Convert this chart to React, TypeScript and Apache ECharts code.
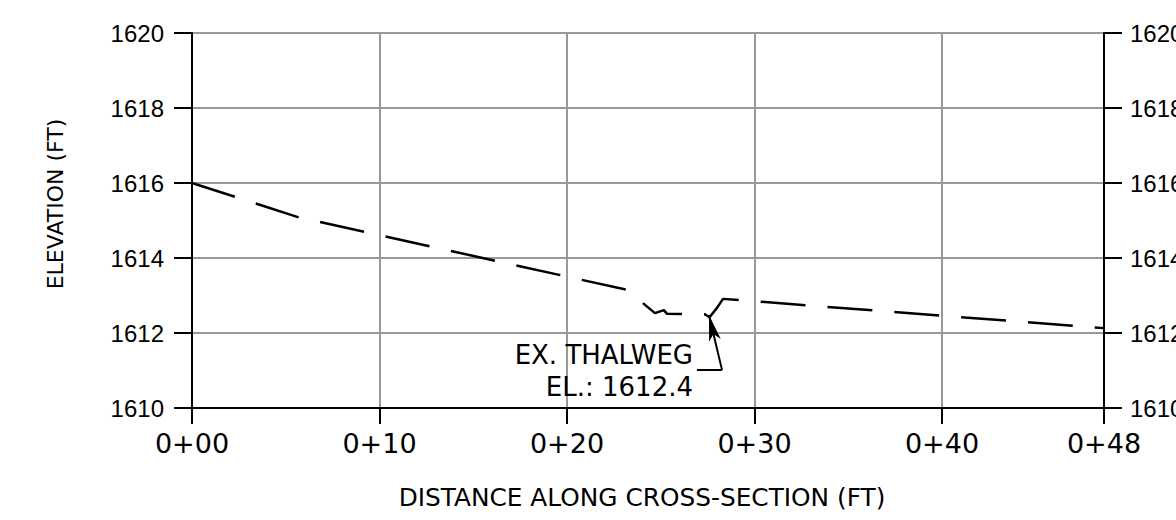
import React, { useEffect, useRef } from "react";
import * as echarts from "echarts";

// Ground profile (distance ft, elevation ft)
const distances = [0, 5.65, 23.2, 24.69, 25.17, 25.33, 27.35, 27.6, 28.0, 28.32, 48.64];
const elevations = [1616, 1615.09, 1613.15, 1612.53, 1612.61, 1612.51, 1612.5, 1612.42, 1612.67, 1612.91, 1612.13];

const xTickValues = [0, 10, 20, 30, 40, 48.64];
const xTickLabels = ["0+00", "0+10", "0+20", "0+30", "0+40", "0+48"];
const yMin = 1610;
const yMax = 1620;
const yStep = 2;

const thalwegX = 27.57;
const thalwegY = 1612.48;
const leaderStart = [26.93, 1611.01];
const leaderCorner = [28.27, 1611.01];
const labelAnchor = [26.72, 1610.99];
const labelLines = ["EX. THALWEG", "EL.: 1612.4"];

const xTitle = "DISTANCE ALONG CROSS-SECTION (FT)";
const yTitle = "ELEVATION (FT)";

export default function App() {
  const ref = useRef<HTMLDivElement>(null);
  useEffect(() => {
    if (!ref.current) return;
    const chart = echarts.init(ref.current, null, { renderer: "svg" });
    const data = distances.map((d, i) => [d, elevations[i]]);
    const xMax = xTickValues[xTickValues.length - 1];
    const axisLine = { show: true, lineStyle: { color: "#000", width: 2 } };
    const axisTick = { show: true, inside: false, length: 18, lineStyle: { color: "#000", width: 2 } };
    const yLabel = {
      fontFamily: "Liberation Sans",
      fontSize: 24,
      color: "#000",
      margin: 28,
      formatter: (v: number) => String(v),
    };
    chart.setOption({
      animation: false,
      backgroundColor: "#fff",
      grid: {
        left: 192,
        right: 72,
        top: 33,
        bottom: 112,
        containLabel: false,
        outerBoundsMode: "none",
      },
      xAxis: {
        type: "value",
        min: 0,
        max: xMax,
        interval: 10,
        axisLine,
        axisTick: { ...axisTick, length: 16 },
        axisLabel: {
          showMaxLabel: true,
          showMinLabel: true,
          fontFamily: "DejaVu Sans",
          fontSize: 27,
          color: "#000",
          margin: 22,
          formatter: (v: number) => {
            const i = xTickValues.findIndex((t) => Math.abs(t - v) < 0.01);
            return i >= 0 ? xTickLabels[i] : "";
          },
        },
        splitLine: { show: true, lineStyle: { color: "#999", width: 2 } },
      },
      yAxis: [
        {
          type: "value",
          min: yMin,
          max: yMax,
          interval: yStep,
          position: "left",
          axisLine,
          axisTick,
          axisLabel: yLabel,
          splitLine: { show: true, lineStyle: { color: "#999", width: 2 } },
        },
        {
          type: "value",
          min: yMin,
          max: yMax,
          interval: yStep,
          position: "right",
          axisLine,
          axisTick,
          axisLabel: { ...yLabel, margin: 26 },
          splitLine: { show: false },
        },
      ],
      series: [
        {
          type: "line",
          data,
          symbol: "none",
          lineStyle: { color: "#000", width: 2.5, type: [45, 22] },
          z: 5,
          markLine: {
            silent: true,
            symbol: ["none", "none"],
            label: { show: false },
            lineStyle: { color: "#000", width: 2, type: "solid" },
            data: [
              [{ coord: leaderStart }, { coord: leaderCorner }],
              [
                { coord: leaderCorner, symbol: "none" },
                { coord: [thalwegX, thalwegY], symbol: "arrow", symbolSize: [9, 26] },
              ],
            ],
          },
          markPoint: {
            silent: true,
            symbol: "circle",
            symbolSize: 0,
            itemStyle: { color: "transparent" },
            label: {
              show: true,
              position: [0, 0],
              align: "right",
              verticalAlign: "middle",
              fontFamily: "DejaVu Sans",
              fontSize: 26,
              lineHeight: 32,
              color: "#000",
              formatter: labelLines.join("\n"),
            },
            data: [{ coord: labelAnchor }],
          },
        },
      ],
      graphic: [
        {
          type: "text",
          x: 642,
          y: 497,
          style: {
            text: xTitle,
            fontFamily: "DejaVu Sans",
            fontSize: 24.8,
            fill: "#000",
            align: "center",
            verticalAlign: "middle",
          },
        },
        {
          type: "text",
          x: 55,
          y: 204,
          rotation: Math.PI / 2,
          style: {
            text: yTitle,
            fontFamily: "DejaVu Sans",
            fontSize: 22,
            fill: "#000",
            align: "center",
            verticalAlign: "middle",
          },
        },
      ],
    });
    return () => chart.dispose();
  }, []);
  return <div ref={ref} style={{ width: 1176, height: 520, position: "absolute", left: 0, top: 0 }} />;
}
